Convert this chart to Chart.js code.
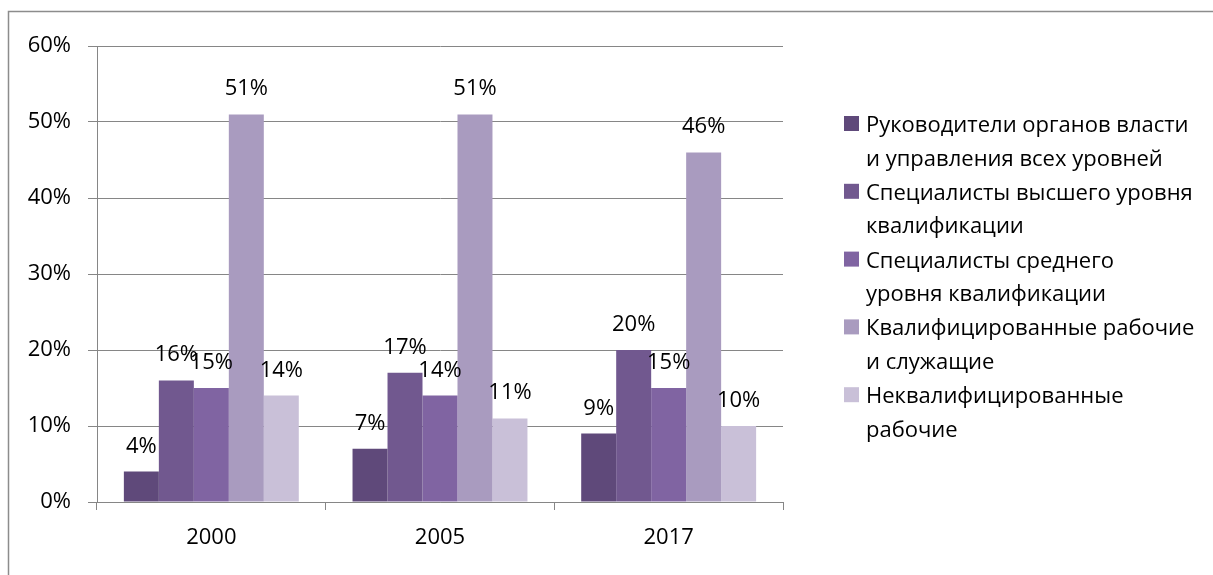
<!DOCTYPE html>
<html>
<head>
<meta charset="utf-8">
<script src="https://cdn.jsdelivr.net/npm/chart.js@4/dist/chart.umd.min.js"></script>
<style>
  html, body { margin: 0; padding: 0; background: #fff; }
  canvas { display: block; }
</style>
</head>
<body>
<canvas id="workChart" width="1213" height="575"></canvas>
<script>
  // categories and series
  const years = ['2000', '2005', '2017'];
  const leaders = [4, 7, 9];
  const specialistsHigh = [16, 17, 20];
  const specialistsMid = [15, 14, 15];
  const skilledWorkers = [51, 51, 46];
  const unskilledWorkers = [14, 11, 10];
  const yTicks = [0, 10, 20, 30, 40, 50, 60];

  // legend text, wrapped as in the picture
  const legendLines = [
    ['Руководители органов власти', 'и управления всех уровней'],
    ['Специалисты высшего уровня', 'квалификации'],
    ['Специалисты среднего', 'уровня квалификации'],
    ['Квалифицированные рабочие', 'и служащие'],
    ['Неквалифицированные', 'рабочие']
  ];

  const colors = ['#5F497A', '#71588F', '#8064A2', '#A99BBF', '#C9C0D8'];
  const FONT = '"Open Sans", sans-serif';
  const gridColor = '#868686';

  // * outer frame
  const framePlugin = {
    id: 'frame',
    beforeDraw(chart) {
      const c = chart.ctx;
      c.save();
      c.fillStyle = '#fff';
      c.fillRect(0, 0, chart.width, chart.height);
      c.strokeStyle = '#8c8c8c';
      c.lineWidth = 1.5;
      c.strokeRect(8.5, 11.5, 1300, 700);
      c.restore();
    }
  };

  // * value labels above the bars
  const valueLabels = {
    id: 'valueLabels',
    afterDatasetsDraw(chart) {
      const c = chart.ctx;
      c.save();
      c.font = '22px ' + FONT;
      c.fillStyle = '#000';
      c.textAlign = 'center';
      c.textBaseline = 'alphabetic';
      chart.data.datasets.forEach(function (ds, i) {
        chart.getDatasetMeta(i).data.forEach(function (bar, j) {
          c.fillText(ds.data[j] + '%', bar.x, bar.y - 19);
        });
      });
      c.restore();
    }
  };

  // * legend on the right with wrapped labels
  const sideLegend = {
    id: 'sideLegend',
    afterDraw(chart) {
      const c = chart.ctx;
      c.save();
      c.font = '22px ' + FONT;
      c.textBaseline = 'alphabetic';
      chart.data.datasets.forEach(function (ds, i) {
        const top = 116 + i * 67.8;
        c.fillStyle = ds.backgroundColor;
        c.fillRect(844, top, 15, 15);
        c.fillStyle = '#000';
        legendLines[i].forEach(function (line, k) {
          c.fillText(line, 866, top + 16 + k * 33.5);
        });
      });
      c.restore();
    }
  };

  const datasets = [leaders, specialistsHigh, specialistsMid, skilledWorkers, unskilledWorkers].map(function (values, i) {
    return {
      label: legendLines[i].join(' '),
      data: values,
      backgroundColor: colors[i],
      borderWidth: 0,
      categoryPercentage: 0.765,
      barPercentage: 1.0
    };
  });

  const ctx = document.getElementById('workChart').getContext('2d');
  new Chart(ctx, {
    type: 'bar',
    data: { labels: years, datasets: datasets },
    options: {
      responsive: false,
      animation: false,
      devicePixelRatio: 1,
      layout: { padding: { left: 0, top: 46, right: 430, bottom: 0 } },
      plugins: {
        legend: { display: false },
        tooltip: { enabled: false }
      },
      scales: {
        x: {
          afterFit(scale) { scale.height = 73; },
          grid: { offset: true, drawOnChartArea: false, drawTicks: true, tickLength: 8, color: gridColor },
          border: { display: true, color: gridColor },
          ticks: { color: '#000', font: { family: FONT, size: 22 }, padding: 15 }
        },
        y: {
          min: 0,
          max: 60,
          afterFit(scale) { scale.width = 97; },
          afterBuildTicks(scale) { scale.ticks = yTicks.map(function (v) { return { value: v }; }); },
          grid: { color: gridColor, tickLength: 9, drawTicks: true },
          border: { display: true, color: gridColor },
          ticks: {
            color: '#000',
            font: { family: FONT, size: 22 },
            padding: 17,
            callback: function (v) { return v + '%'; }
          }
        }
      }
    },
    plugins: [framePlugin, valueLabels, sideLegend]
  });
</script>
</body>
</html>
